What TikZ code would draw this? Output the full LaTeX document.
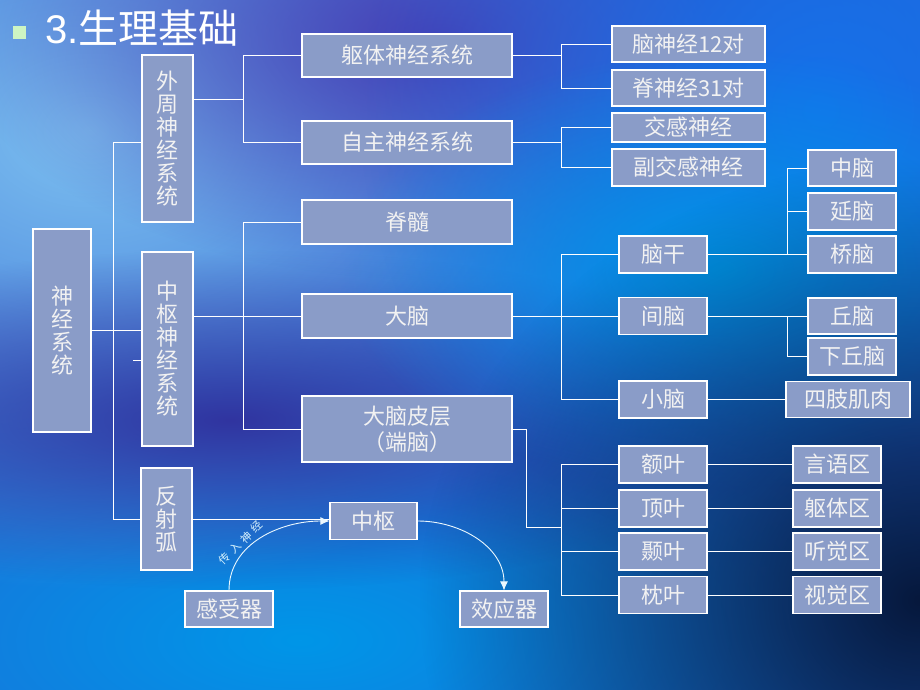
\documentclass[tikz,border=0pt]{standalone}
\usepackage{fontspec}
\setmainfont{Liberation Sans}
\newfontfamily\cjk{Noto Sans CJK SC}
\usepackage{tikz}
\usetikzlibrary{arrows.meta,fadings}

\definecolor{boxfill}{RGB}{138,156,200}
\definecolor{bgbase}{RGB}{40,95,210}
\definecolor{skylight}{RGB}{125,192,240}
\definecolor{violet}{RGB}{70,62,180}
\definecolor{brightblue}{RGB}{20,115,235}
\definecolor{deepblue}{RGB}{48,52,160}
\definecolor{cyanblue}{RGB}{0,150,232}
\definecolor{navy}{RGB}{6,24,60}
\definecolor{bullet}{RGB}{205,244,195}
\tikzfading[name=softglow, inner color=transparent!0, outer color=transparent!100]

\tikzset{
  box/.style={draw=white, fill=boxfill, text=white!95!black, line width=1.1pt,
    inner sep=0pt, align=center, font=\cjk\fontsize{22}{23}\selectfont},
  link/.style={draw=white, line width=0.9pt},
  flow/.style={draw=cyan!8!white, line width=0.9pt, -{Latex[length=9pt,width=8pt]}}
}

\begin{document}
\begin{tikzpicture}[x=1pt,y=1pt]
  \useasboundingbox (0,0) rectangle (920,690);
  % background
  \begin{scope}
    \clip (0,0) rectangle (920,690);
    \fill[bgbase] (0,0) rectangle (920,690);
    \fill[cyanblue, path fading=softglow] (300,50) ellipse (780 and 320);
    \fill[skylight, path fading=softglow] (90,560) ellipse (640 and 460);
    \fill[violet, path fading=softglow] (440,650) ellipse (480 and 240);
    \fill[brightblue, path fading=softglow] (820,580) ellipse (460 and 460);
    \fill[deepblue, path fading=softglow] (230,270) ellipse (580 and 170);
    \fill[cyanblue, path fading=softglow] (720,420) ellipse (380 and 220);
    \fill[navy, path fading=softglow] (920,90) ellipse (500 and 440);
  \end{scope}

  % title
  \fill[bullet] (13,651) rectangle (26,664);
  \node[anchor=base west, inner sep=0pt, text=white, font=\fontsize{40}{42}\selectfont] (title) at (45,646) {3.{\cjk 生理基础}};

  % first column
  \node[box, minimum width=58, minimum height=203] (ns) at (62,359.5) {神\\经\\系\\统};
  \node[box, minimum width=51, minimum height=167] (wz) at (167.5,551.5) {外\\周\\神\\经\\系\\统};
  \node[box, minimum width=51, minimum height=194] (zs) at (167.5,341) {中\\枢\\神\\经\\系\\统};
  \node[box, minimum width=51, minimum height=102] (fs) at (166.5,171) {反\\射\\弧};

  % second column
  \node[box, minimum width=210, minimum height=43] (qt) at (407,634.5) {躯体神经系统};
  \node[box, minimum width=210, minimum height=43] (zz) at (407,547.5) {自主神经系统};
  \node[box, minimum width=210, minimum height=44] (jsui) at (407,468) {脊髓};
  \node[box, minimum width=210, minimum height=44] (dn) at (407,374) {大脑};
  \node[box, minimum width=210, minimum height=66, font=\cjk\fontsize{22}{26}\selectfont] (dp) at (407,261) {大脑皮层\\（端脑）};

  % third column
  \node[box, minimum width=153, minimum height=36] (nj) at (688.5,646) {脑神经12对};
  \node[box, minimum width=153, minimum height=36] (jj) at (688.5,602) {脊神经31对};
  \node[box, minimum width=153, minimum height=29] (jg) at (688.5,562.5) {交感神经};
  \node[box, minimum width=153, minimum height=37] (fjg) at (688.5,522.5) {副交感神经};
  \node[box, minimum width=88, minimum height=37] (ng) at (663,435.5) {脑干};
  \node[box, minimum width=88, minimum height=37] (jn) at (663,374) {间脑};
  \node[box, minimum width=88, minimum height=37] (xn) at (663,290.5) {小脑};
  \node[box, minimum width=88, minimum height=37] (ey) at (663,225.5) {额叶};
  \node[box, minimum width=88, minimum height=37] (dy) at (663,181.5) {顶叶};
  \node[box, minimum width=88, minimum height=37] (ny) at (663,138.5) {颞叶};
  \node[box, minimum width=88, minimum height=37] (zy) at (663,95) {枕叶};

  % fourth column
  \node[box, minimum width=88, minimum height=36] (zn) at (852,522) {中脑};
  \node[box, minimum width=88, minimum height=37] (yn) at (852,478.5) {延脑};
  \node[box, minimum width=88, minimum height=37] (qn) at (852,435.5) {桥脑};
  \node[box, minimum width=88, minimum height=36] (qiu) at (852,374) {丘脑};
  \node[box, minimum width=88, minimum height=37] (xq) at (852,333.5) {下丘脑};
  \node[box, minimum width=124, minimum height=36] (sz) at (848,290.5) {四肢肌肉};
  \node[box, minimum width=88, minimum height=37] (yy) at (837,225.5) {言语区};
  \node[box, minimum width=88, minimum height=37] (qtq) at (837,181.5) {躯体区};
  \node[box, minimum width=88, minimum height=37] (tj) at (837,138.5) {听觉区};
  \node[box, minimum width=88, minimum height=37] (sj) at (837,95) {视觉区};

  % reflex arc
  \node[box, minimum width=87, minimum height=37] (zsh) at (373.5,169) {中枢};
  \node[box, minimum width=88, minimum height=36] (gsq) at (229,81) {感受器};
  \node[box, minimum width=88, minimum height=36] (xyq) at (504,81) {效应器};

  % branch points
  \coordinate (b0) at (113,548);
  \coordinate (b1) at (243,591);
  \coordinate (b2) at (243,0);
  \coordinate (b3) at (561,0);
  \coordinate (b4) at (787,0);
  \coordinate (b5) at (561,163);

  \draw[link] (b0 -| wz.west) -- (b0) |- (fs.west);
  \draw[link] (ns.east) -- (ns.east -| zs.west);
  \draw[link] ([yshift=-11pt]zs.west) -- ++(-8,0);

  \draw[link] (b1 -| wz.east) -- (b1);
  \draw[link] (qt.west) -| (b1 |- zz.west) -- (zz.west);
  \draw[link] (dn.west -| zs.east) -- (dn.west);
  \draw[link] (jsui.west) -| (b2 |- dp.west) -- (dp.west);

  \draw[link] (qt.east) -- (qt.east -| b3);
  \draw[link] (nj.west) -| (b3 |- jj.west) -- (jj.west);
  \draw[link] (zz.east) -- (zz.east -| b3);
  \draw[link] (jg.west) -| (b3 |- fjg.west) -- (fjg.west);
  \draw[link] (dn.east) -- (jn.west);
  \draw[link] (ng.west) -| (b3 |- xn.west) -- (xn.west);

  \draw[link] (ng.east) -- (qn.west);
  \draw[link] (zn.west) -| (b4 |- qn.west);
  \draw[link] (yn.west) -- (yn.west -| b4);
  \draw[link] (jn.east) -- (qiu.west);
  \draw[link] (xq.west) -| (b4 |- qiu.west);
  \draw[link] (xn.east) -- (sz.west);

  \draw[link] (dp.east) -- ++(14,0) |- (b5);
  \draw[link] (ey.west) -| (b3 |- zy.west) -- (zy.west);
  \draw[link] (dy.west) -- (dy.west -| b3);
  \draw[link] (ny.west) -- (ny.west -| b3);
  \draw[link] (ey.east) -- (yy.west);
  \draw[link] (dy.east) -- (qtq.west);
  \draw[link] (ny.east) -- (tj.west);
  \draw[link] (zy.east) -- (sj.west);

  \draw[link] (fs.east) -- (fs.east -| zsh.west);
  \draw[flow] (gsq.north) to[out=90,in=180]
    node[sloped, above, pos=0.36, inner sep=3pt, text=white!85!cyan, font=\cjk\fontsize{11}{12}\selectfont] (crs) {传\hspace{4pt}入\hspace{4pt}神\hspace{4pt}经} (zsh.west);
  \draw[flow] (zsh.east) to[out=0,in=90] (xyq.north);
\end{tikzpicture}
\end{document}
